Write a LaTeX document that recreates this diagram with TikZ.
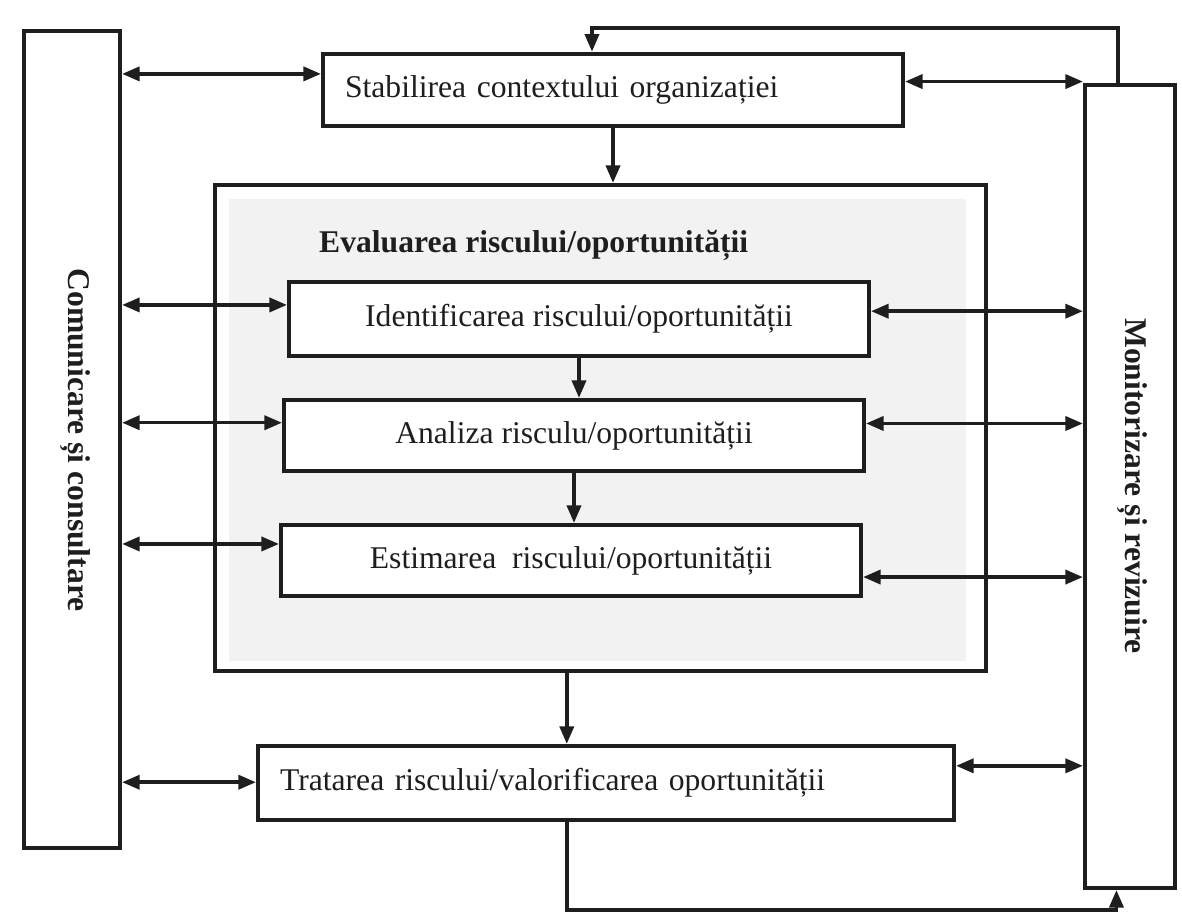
\documentclass[tikz,border=0pt]{standalone}
\usepackage{fontspec}
\setmainfont{Liberation Serif}
\usetikzlibrary{arrows.meta,calc}
\definecolor{ink}{HTML}{1E1E1E}
\definecolor{evalbg}{HTML}{F2F2F2}
\begin{document}
\begin{tikzpicture}[x=0.02cm,y=-0.02cm,
  box/.style={draw=ink, line width=2.4pt, fill=white, inner sep=0pt, text=ink,
    font=\fontsize{18}{21}\selectfont},
  side/.style={box},
  lbl/.style={text=ink, font=\bfseries\fontsize{18}{21}\selectfont},
  conn/.style={draw=ink, line width=2pt},
  tip/.tip={Triangle[length=10pt,width=8pt]},
  dbl/.style={conn, tip-tip},
  one/.style={conn, -tip}]
\useasboundingbox (0,0) rectangle (1182,923);

% side boxes
\node[side, minimum width=1.92cm, minimum height=16.34cm] (comm) at (72,439.5) {};
\node[lbl, rotate=-90] (commlbl) at (75,440) {Comunicare și consultare};
\node[side, minimum width=1.8cm, minimum height=16.06cm] (mon) at (1130,486.5) {};
\node[lbl, rotate=-90] (monlbl) at (1132,486) {Monitorizare și revizuire};

% top box
\node[box, minimum height=1.45cm, text width=10.72cm, inner xsep=0.44cm, align=left]
  (stab) at (613,90) {Stabilirea contextului organizației};

% evaluation frame
\node[box, minimum width=15.42cm, minimum height=9.72cm] (eval) at (600.5,428) {};
\fill[evalbg] ($(eval.north west)+(16,16)$) rectangle ($(eval.south east)+(-22,-12)$);
\node[lbl, anchor=west] (title) at (313,245) {Evaluarea riscului/oportunității};

\node[box, minimum width=11.6cm, minimum height=1.48cm] (ident) at (579,319)
  {Identificarea riscului/oportunității};
\node[box, minimum width=11.6cm, minimum height=1.42cm] (anal) at (574,435.5)
  {Analiza risculu/oportunității};
\node[box, minimum width=11.6cm, minimum height=1.42cm] (estim) at (571,560.5)
  {Estimarea\ \ riscului/oportunității};

% treatment
\node[box, minimum height=1.48cm, text width=13.04cm, inner xsep=0.44cm, align=left]
  (trat) at (606,783) {Tratarea riscului/valorificarea oportunității};

% vertical flow
\draw[one] (stab.south) -- (stab.south |- eval.north);
\draw[one] (ident.south) -- (ident.south |- anal.north);
\draw[one] (anal.south) -- (anal.south |- estim.north);

\coordinate (tb) at ($(trat.south west)!0.444!(trat.south east)$);
\draw[one] (eval.south -| tb) -- (trat.north -| tb);

% feedback loops
\coordinate (top) at (0,28);
\coordinate (bot) at (0,910);
\coordinate (mt) at ($(mon.north west)!0.37!(mon.north east)$);
\coordinate (st) at ($(stab.north west)!0.464!(stab.north east)$);
\draw[one] (mt) -- (mt |- top) -- (st |- top) -- (st);
\coordinate (mb) at ($(mon.south west)!0.356!(mon.south east)$);
\draw[one] (tb) -- (tb |- bot) -- (mb |- bot) -- (mb);

% communication arrows (left)
\coordinate (sL) at ($(stab.north west)!0.29!(stab.south west)$);
\coordinate (iL) at ($(ident.north west)!0.32!(ident.south west)$);
\coordinate (aL) at ($(anal.north west)!0.33!(anal.south west)$);
\coordinate (eL) at ($(estim.north west)!0.28!(estim.south west)$);
\coordinate (tL) at ($(trat.north west)!0.49!(trat.south west)$);
\foreach \p in {sL,iL,aL,eL,tL}
  \draw[dbl] (comm.east |- \p) -- (\p);

% monitoring arrows (right)
\coordinate (sR) at ($(stab.north east)!0.39!(stab.south east)$);
\coordinate (iR) at ($(ident.north east)!0.4!(ident.south east)$);
\coordinate (aR) at ($(anal.north east)!0.34!(anal.south east)$);
\coordinate (eR) at ($(estim.north east)!0.72!(estim.south east)$);
\coordinate (tR) at ($(trat.north east)!0.28!(trat.south east)$);
\foreach \p in {sR,iR,aR,eR,tR}
  \draw[dbl] (\p) -- (mon.west |- \p);
\end{tikzpicture}
\end{document}
